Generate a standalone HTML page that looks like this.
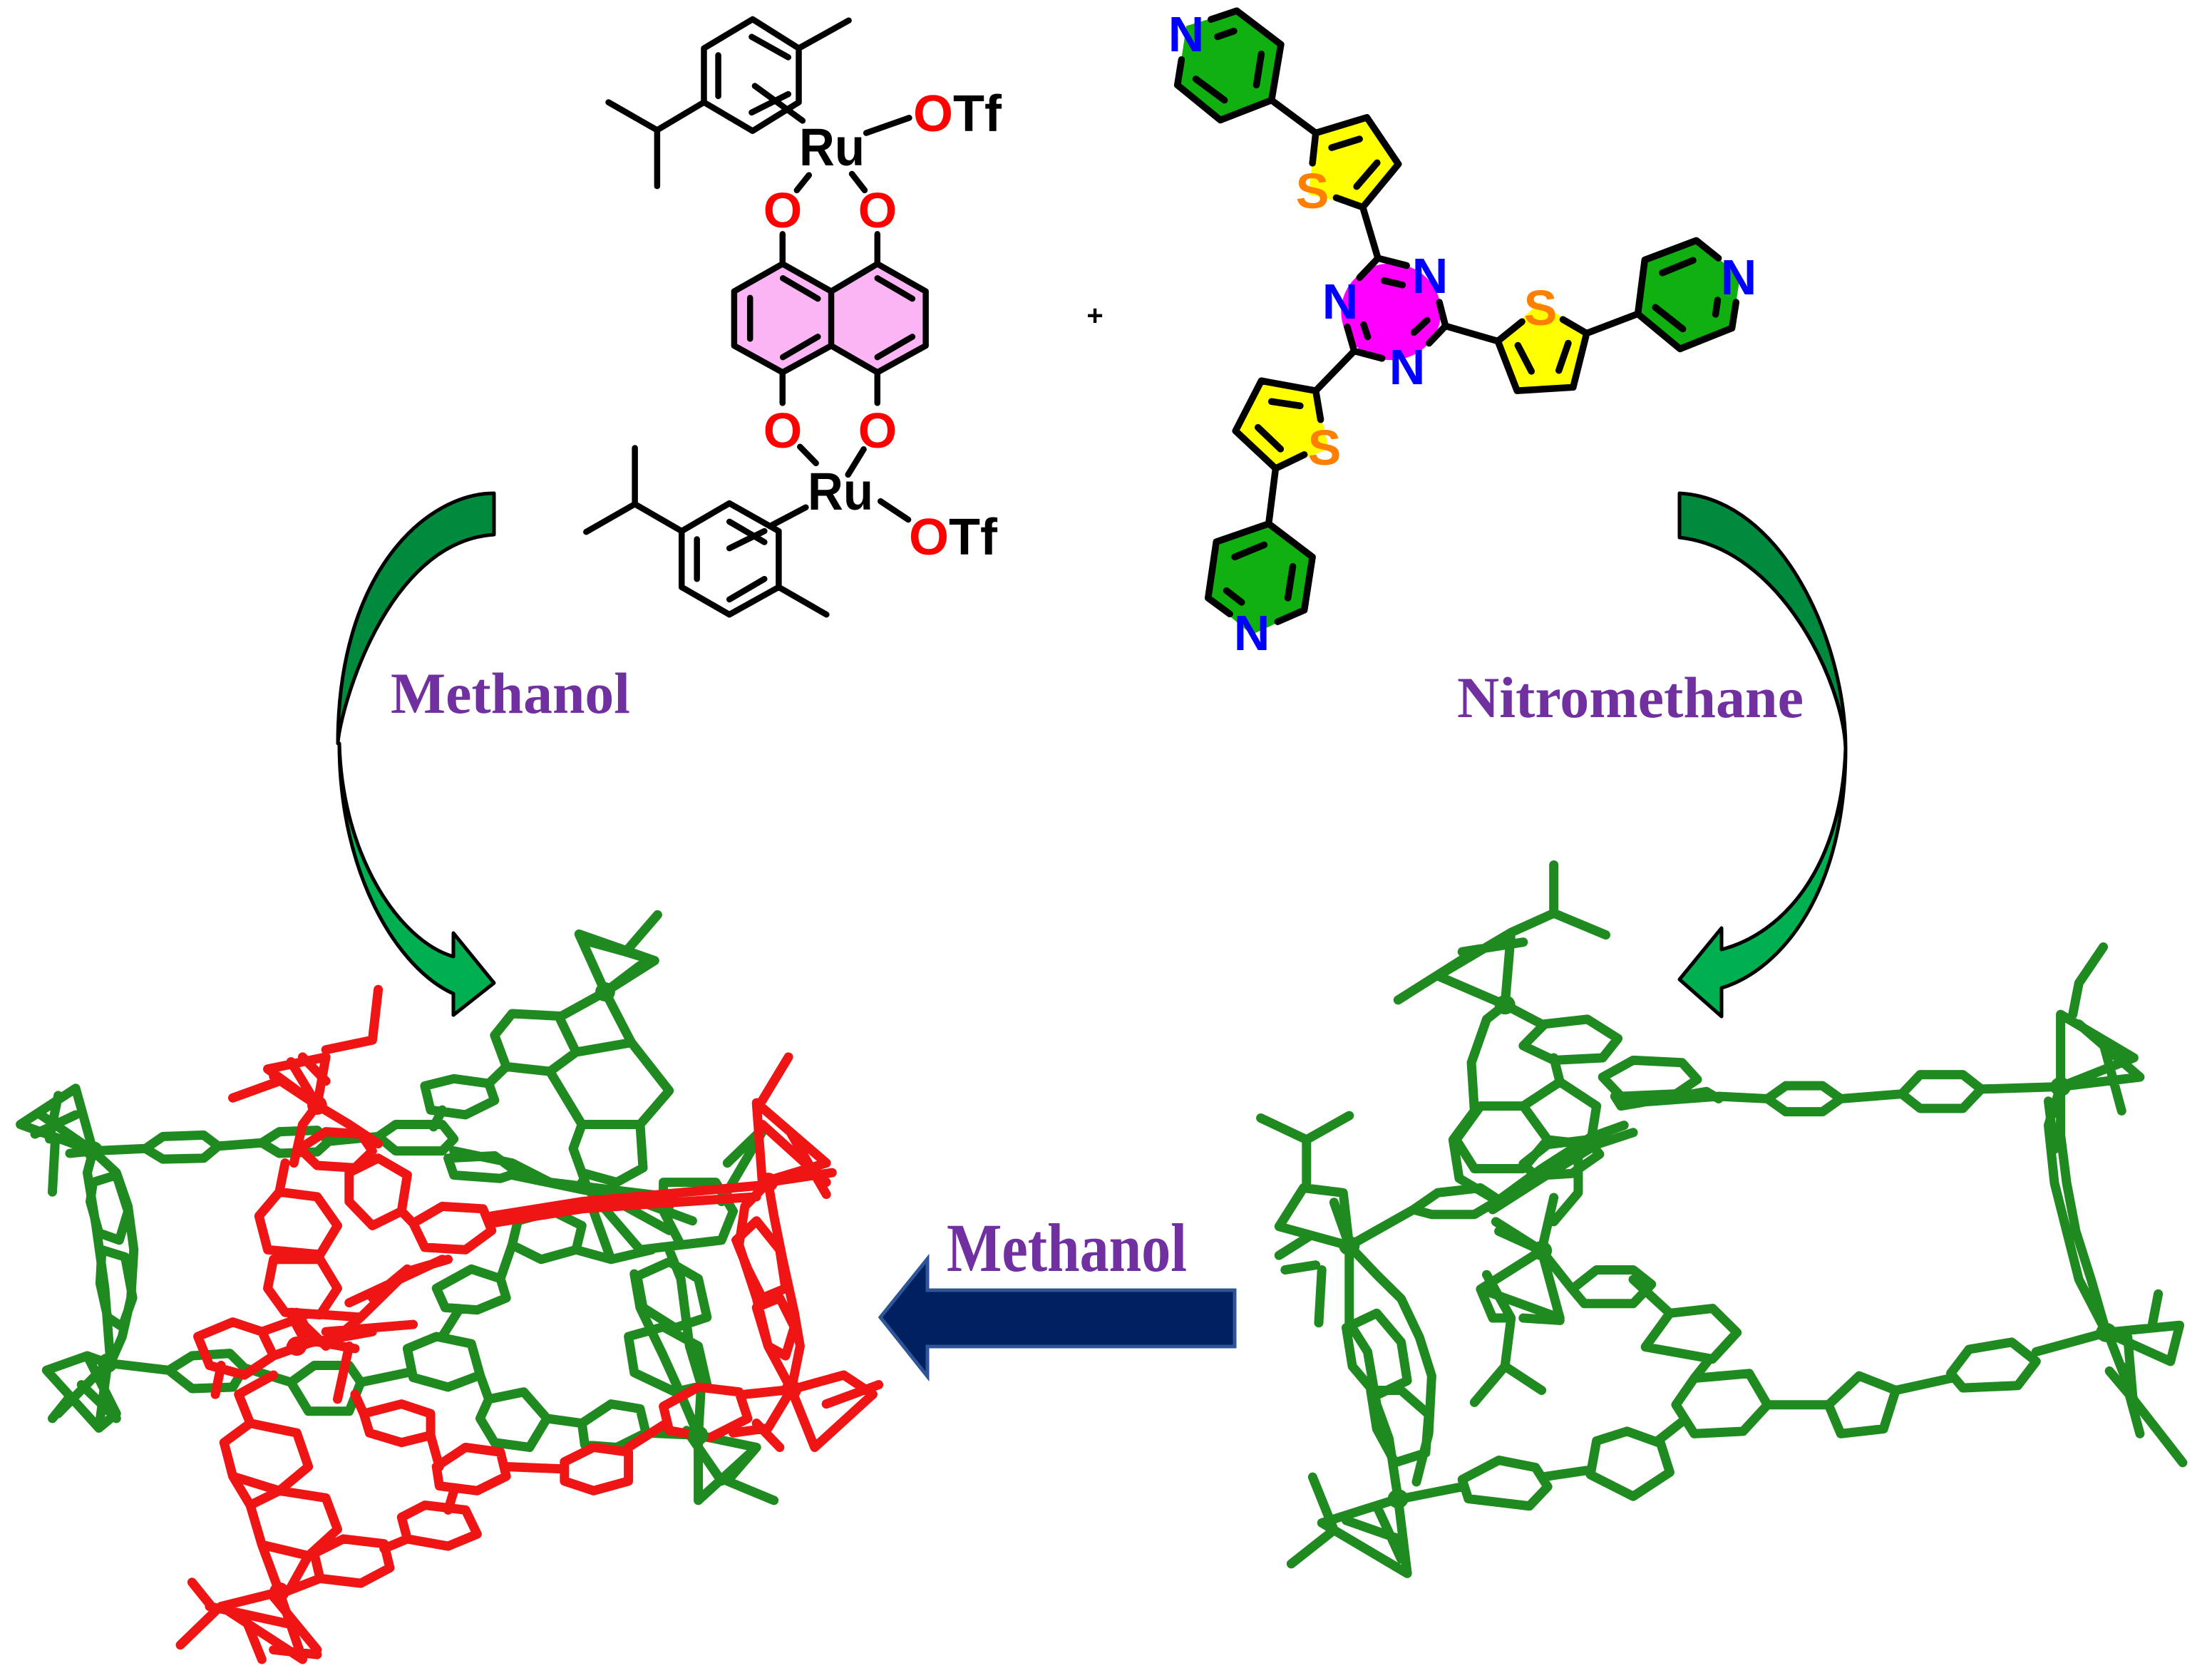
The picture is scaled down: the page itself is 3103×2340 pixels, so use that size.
<!DOCTYPE html>
<html><head><meta charset="utf-8">
<style>
html,body{margin:0;padding:0;background:#fff}
svg{display:block}
.b{fill:none;stroke:#000;stroke-width:8.5;stroke-linecap:round;stroke-linejoin:round}
.b2{fill:none;stroke:#000;stroke-width:9.5;stroke-linecap:round;stroke-linejoin:round}
.g{fill:none;stroke:#1f8a1f;stroke-width:13;stroke-linecap:round;stroke-linejoin:round}
.r{fill:none;stroke:#f01515;stroke-width:13;stroke-linecap:round;stroke-linejoin:round}
.lbl{font-family:"Liberation Sans",Arial,sans-serif}
.sol{font-family:"Liberation Serif","Times New Roman",serif;font-weight:bold;fill:#7030a0}
</style></head><body>
<svg width="3103" height="2340" viewBox="0 0 3103 2340" xmlns="http://www.w3.org/2000/svg">
<rect width="3103" height="2340" fill="#fff"/>

<!-- ===== Ru dimer molecule ===== -->
<g transform="translate(800,0) scale(0.4464,0.574)">
<polygon points="667,645 820,712 965,645 1117,712 1117,845 965,910 820,845 667,910 515,845 515,712" fill="#fbb5f5"/>
<path class="b" vector-effect="non-scaling-stroke" d="
M573,47 L718,118 L718,250 L573,320 L420,250 L420,118 Z
M718,118 L875,50
M420,250 L273,318 L120,250 M273,318 L273,455
M465,135 L465,235 M570,90 L685,140 M570,275 L685,230
M580,210 L730,295
M930,325 L1065,288
M712,465 L750,428 M885,425 L925,465
M667,572 L667,645 M965,572 L965,645
M667,645 L820,712 L965,645 L1117,712 L1117,845 L965,910 L820,845 L667,910 L515,845 L515,712 Z
M820,712 L820,845
M668,680 L778,730 M565,728 L565,828 M668,873 L778,823 M965,680 L1075,730 M965,873 L1075,823
M667,910 L667,985 M965,910 L965,985
M722,1092 L772,1132 M922,1098 L873,1160
M975,1225 L1062,1270
M500,1230 L655,1298 L655,1435 L500,1502 L350,1435 L350,1298 Z
M350,1298 L203,1232 L50,1300 M203,1232 L203,1095
M655,1435 L805,1502
M500,1340 L610,1298 M635,1283 L740,1240
M398,1318 L398,1415 M500,1275 L610,1325 M500,1465 L610,1415"/>
</g>
<g class="lbl" font-weight="bold">
<text x="1121" y="232" font-size="74" textLength="92" lengthAdjust="spacingAndGlyphs">Ru</text>
<text x="1133" y="715" font-size="74" textLength="92" lengthAdjust="spacingAndGlyphs">Ru</text>
<text x="1281" y="184" font-size="72"><tspan fill="#ff0000">O</tspan>Tf</text>
<text x="1275" y="778" font-size="72"><tspan fill="#ff0000">O</tspan>Tf</text>
<g fill="#ff0000" font-size="70" text-anchor="middle">
<text x="1098" y="319">O</text><text x="1231" y="319">O</text>
<text x="1098" y="628">O</text><text x="1231" y="628">O</text>
</g>
<text x="1536" y="456" font-size="40" text-anchor="middle">+</text>
</g>

<!-- ===== Tripyridyl ligand ===== -->
<g transform="translate(1600,0) scale(0.5741,0.6057)">
<polygon points="112,60 235,25 343,103 320,232 195,278 90,197" fill="#10b010"/>
<polygon points="428,308 553,272 630,380 543,480 410,450" fill="#ffff00"/>
<ellipse cx="612" cy="722" rx="122" ry="112" fill="#ff00ff"/>
<polygon points="873,790 975,700 1090,772 1057,897 920,905" fill="#ffff00"/>
<polygon points="1215,727 1232,602 1358,557 1465,640 1445,760 1318,808" fill="#10b010"/>
<polygon points="428,905 295,882 232,998 330,1085 460,1040" fill="#ffff00"/>
<polygon points="313,1213 420,1290 400,1413 272,1470 165,1385 185,1255" fill="#10b010"/>
<path class="b2" vector-effect="non-scaling-stroke" d="
M172,45 L235,25 L343,103 L320,232 L195,278 L90,197 L100,138
M188,85 L228,72 M295,125 L283,197 M135,183 L205,232
M320,232 L428,308
M420,378 L428,308 L553,272 L630,380 L543,480 L478,458
M467,342 L535,322 M528,432 L578,377
M543,480 L580,598
M535,643 L580,598 L650,615 M730,700 L745,755 L705,795 M590,830 L522,813 L505,757
M595,650 L640,660 M545,752 L555,780 M668,770 L700,742
M745,755 L873,790
M932,745 L873,790 L920,905 L1057,897 L1090,772 L1032,740
M922,800 L955,860 M1045,795 L1022,858
M1090,772 L1215,727
M1412,598 L1358,557 L1232,602 L1215,727 L1318,808 L1445,760 L1455,700
M1275,632 L1350,603 M1258,712 L1325,762 M1410,695 L1405,728
M522,813 L428,905
M440,972 L428,905 L295,882 L232,998 L330,1085 L400,1053
M320,930 L390,940 M287,990 L342,1040
M330,1085 L313,1213
M335,1440 L400,1413 L420,1290 L313,1213 L185,1255 L165,1385 L218,1422
M230,1290 L302,1262 M372,1312 L360,1385 M210,1368 L247,1395"/>
</g>
<g class="lbl" font-size="70" font-weight="bold" text-anchor="middle">
<text x="1664" y="72" fill="#0000ff">N</text>
<text x="1841" y="292" fill="#ff8000">S</text>
<text x="2006" y="411" fill="#0000ff">N</text>
<text x="1974" y="539" fill="#0000ff">N</text>
<text x="1880" y="447" fill="#0000ff">N</text>
<text x="2161" y="456" fill="#ff8000">S</text>
<text x="2439" y="413" fill="#0000ff">N</text>
<text x="1858" y="652" fill="#ff8000">S</text>
<text x="1756" y="912" fill="#0000ff">N</text>
</g>

<!-- ===== Curved arrows ===== -->
<g stroke="#000" stroke-width="5" stroke-linejoin="round">
<path fill="#008a3e" d="M693,692 C600,692 474,800 474,1043 C476,1000 540,760 693,750 Z"/>
<path fill="#00b050" d="M476,1043 C476,1230 560,1360 636,1394 L636,1424 L693,1379 L636,1309 L636,1342 C560,1320 480,1200 476,1043 Z"/>
<path fill="#008a3e" d="M2356,692 C2500,700 2589,900 2589,1050 C2586,960 2500,770 2356,754 Z"/>
<path fill="#00b050" d="M2589,1050 C2589,1250 2500,1360 2415,1386 L2415,1426 L2356,1374 L2415,1302 L2415,1332 C2500,1310 2583,1220 2589,1050 Z"/>
</g>
<text class="sol" x="548" y="1000" font-size="82" textLength="336" lengthAdjust="spacingAndGlyphs">Methanol</text>
<text class="sol" x="2044" y="1006" font-size="82" textLength="486" lengthAdjust="spacingAndGlyphs">Nitromethane</text>

<!-- ===== Straight arrow ===== -->
<polygon points="1235,1848 1301,1766 1301,1810 1732,1810 1732,1889 1301,1889 1301,1931" fill="#002060" stroke="#2e5597" stroke-width="5" stroke-linejoin="miter"/>
<text class="sol" x="1328" y="1783" font-size="96" textLength="337" lengthAdjust="spacingAndGlyphs">Methanol</text>

<!-- ===== Left crystal structure ===== -->
<g transform="translate(0,1280) scale(0.8163,0.6761)">
<path class="g" vector-effect="non-scaling-stroke" d="
M995,45 L1125,100 L1040,165 Z M995,45 L1040,165 M1010,60 L1070,80 L1125,100 M1080,75 L1130,5 M1040,165 L1100,110
M1040,165 L965,215
M880,210 L960,215 L990,290 L945,330 L870,320 L850,255 Z
M990,290 L1085,270 L1150,370 L1100,440 L1000,440 L945,330
M1040,165 L1085,270
M1000,440 L985,490 L1000,540 L1060,560 L1105,530 L1100,440
M1000,540 L1010,575
M730,360 L780,345 L840,355 L850,390 L800,420 L740,410 Z M870,320 L840,355 M760,410 L745,445
M160,495 L250,490
M250,490 L280,465 L350,462 L375,485 L350,510 L280,512 Z M375,485 L450,478
M450,478 L480,455 L545,452 L565,475 L545,497 L480,500 Z M565,475 L650,465
M650,465 L680,440 L760,440 L780,470 L760,495 L680,495 Z
M780,495 L880,520 L945,560 L1150,590
M770,510 L850,505 L890,540 L860,552 L780,545 Z
M880,545 L1000,575 L1150,610
M160,495 L150,540 L165,650 L180,780 L190,935
M160,495 L200,540 L220,610 L230,700 L225,800 L210,880 L190,935
M160,560 L200,545 L220,620 L205,680 L170,665 L155,600 Z
M175,700 L215,715 L228,800 L210,860 L185,840 L172,770 Z
M35,440 L130,365 L160,495 Z M70,420 L160,495 M95,470 L90,580 M60,460 L130,420 M100,380 L85,470 M120,500 L160,495
M80,950 L150,920 L185,935 L170,1070 Z M100,1040 L185,935 M140,980 L200,1050 M120,1005 L90,1050 M150,920 L200,1040 L170,1070
M185,935 L290,950
M290,950 L330,920 L395,915 L420,945 L400,985 L330,988 Z
M500,975 L540,940 L600,940 L620,975 L600,1035 L530,1035 Z M420,945 L500,975
M620,975 L700,955
M700,905 L750,880 L810,895 L825,960 L770,985 L710,965 Z
M750,780 L810,740 L860,760 L870,800 L820,825 L765,820 Z M760,880 L790,822
M880,690 L890,640 L950,620 L1000,650 L990,700 L930,720 Z M860,760 L880,690
M840,1010 L900,995 L940,1050 L910,1110 L850,1100 L825,1050 Z M825,960 L840,1010
M940,1050 L1000,1060
M1000,1060 L1050,1020 L1100,1030 L1110,1080 L1060,1110 L1005,1105 Z M1110,1080 L1200,1085
M1200,1085 L1300,1110 L1200,1220 Z M1180,1075 L1240,1180 M1300,1110 L1250,1180 L1330,1220
M1200,1085 L1205,980 L1185,900 L1170,760 L1150,700
M1200,1085 L1170,1000 L1140,920 L1100,820 L1090,750
M1095,755 L1150,725 L1200,760 L1215,840 L1160,862 L1105,820 Z
M1080,880 L1140,860 L1200,900 L1215,980 L1160,995 L1090,955 Z
M1140,560 L1230,560 L1260,620 L1240,680 L1170,690 L1140,620 Z
M1240,600 L1310,455 M1250,520 L1310,450
M1000,560 L1100,700 L1170,690 M1020,620 L1050,720 L1120,700 M1060,600 L1150,660 M1100,600 L1190,640 M990,700 L1050,720"/>
<path class="r" vector-effect="non-scaling-stroke" d="
M650,160 L640,265 L560,285
M460,325 L560,300 L545,400 Z M470,340 L545,400 M400,385 L480,350 M520,300 L560,350 M500,310 L545,400
M545,400 L520,440 L505,520 M545,400 L600,440 L650,480
M515,490 L560,455 L620,460 L640,495 L610,530 L545,525 Z
M445,630 L480,580 L545,590 L580,650 L550,710 L460,700 Z M490,520 L480,580
M470,720 L550,720 L580,780 L550,835 L490,830 L460,780 Z M500,835 L520,880
M600,540 L650,510 L700,545 L690,620 L640,650 L600,600 Z
M710,645 L760,610 L830,615 L845,660 L800,700 L730,695 Z M690,620 L710,645
M845,630 L1000,600 L1320,565 M845,645 L1000,615 L1300,590
M1355,300 L1310,390
M1300,395 L1420,520 L1310,560 Z M1310,440 L1420,560 M1360,460 L1420,585 M1320,560 L1430,540
M1320,560 L1280,610 L1270,690 L1300,800 L1320,900 L1360,990
M1320,560 L1330,630 L1345,720 L1365,830 L1375,900 L1360,990
M1265,680 L1300,640 L1340,700 L1350,780 L1310,800 L1285,740 Z
M1300,820 L1340,800 L1365,860 L1350,920 L1320,900 Z
M1360,990 L1450,960 L1500,1000 L1400,1110 Z M1420,1020 L1510,980 M1300,1060 L1340,1110 M1360,990 L1320,1070 L1260,1080
M1360,990 L1280,1000
M1140,1025 L1200,985 L1270,995 L1285,1050 L1220,1090 L1150,1075 Z M1145,1060 L1080,1110
M970,1140 L1020,1110 L1080,1120 L1080,1180 L1020,1200 L970,1180 Z M970,1155 L870,1150
M750,1150 L800,1110 L860,1120 L870,1170 L820,1200 L755,1190 Z M780,1200 L770,1240
M690,1255 L730,1230 L800,1240 L820,1290 L770,1315 L700,1300 Z M700,1300 L660,1320
M540,1330 L590,1300 L660,1310 L670,1360 L620,1392 L550,1382 Z M550,1382 L490,1410
M380,1440 L480,1410 L520,1550 Z M330,1390 L370,1450 L310,1520 M470,1420 L545,1530 M360,1440 L510,1480 M420,1460 L450,1550 M470,1530 L545,1540
M385,1100 L430,1060 L510,1080 L530,1150 L480,1200 L400,1170 Z
M430,1230 L480,1200 L560,1215 L580,1280 L530,1335 L450,1312 Z
M450,1312 L480,1410 M530,1335 L500,1400 M400,1170 L430,1230
M430,1060 L410,1000 L470,960
M340,880 L400,850 L450,870 L470,920 L420,960 L360,940 Z
M500,830 L620,840 L560,900 Z M560,870 L710,855 M380,940 L370,1000 M600,900 L580,1010 M500,900 L640,870 M470,920 L540,890 L610,905 M450,870 L520,840
M620,840 L700,745 L770,720 M600,810 L760,720 M640,800 L700,740
M625,1040 L690,1020 L740,1040 L740,1085 L690,1100 L635,1080 Z M610,1000 L625,1040 M740,1085 L755,1150
M540,890 L510,830"/>
<g fill="#1f8a1f"><ellipse cx="1040" cy="165" rx="17" ry="20"/><ellipse cx="160" cy="495" rx="17" ry="20"/><ellipse cx="185" cy="935" rx="17" ry="20"/><ellipse cx="1200" cy="1085" rx="17" ry="20"/></g>
<g fill="#f01515"><ellipse cx="545" cy="400" rx="17" ry="20"/><ellipse cx="1320" cy="560" rx="17" ry="20"/><ellipse cx="1360" cy="990" rx="17" ry="20"/><ellipse cx="480" cy="1410" rx="17" ry="20"/><ellipse cx="510" cy="900" rx="17" ry="20"/></g>
</g>

<!-- ===== Right crystal structure ===== -->
<g transform="translate(1760,1200) scale(0.8565,0.6761)">
<path class="g" vector-effect="non-scaling-stroke" d="
M490,20 L490,120 L575,165 M490,120 L420,160
M300,250 L420,160 L410,310 Z M235,300 L360,200 M340,200 L440,180
M410,310 L470,350 M410,310 L380,340 L355,430
M440,395 L475,350 L545,340 L595,380 L570,420 L490,425 Z
M570,460 L620,425 L700,430 L725,465 L690,495 L600,500 Z
M600,520 L740,490 L760,505 M590,500 L600,520
M600,515 L760,500 L840,505
M840,505 L870,478 L930,478 L960,505 L930,532 L870,532 Z M960,505 L1060,495
M1060,495 L1090,455 L1160,455 L1190,485 L1160,525 L1090,525 Z M1190,485 L1320,480
M1390,190 L1350,265 L1340,330
M1320,330 L1440,420 L1320,480 Z M1350,350 L1450,460 L1320,480 M1390,390 L1420,530 M1300,510 L1310,610
M1320,480 L1300,560 L1310,680 L1330,780 L1350,880 L1395,990
M1320,480 L1320,580 L1330,680 L1345,780 L1370,880 L1395,990
M1395,990 L1515,975 L1500,1050 Z M1480,910 L1470,975 M1400,1000 L1440,1130 L1520,1260 M1420,1060 L1450,1200 M1440,1130 L1400,1070 M1430,1000 L1440,1150
M1395,990 L1280,1030
M1140,1075 L1170,1025 L1240,1010 L1280,1050 L1250,1100 L1160,1105 Z M1140,1085 L1050,1110
M940,1140 L990,1080 L1050,1110 L1030,1190 L960,1200 Z M940,1140 L840,1140
M720,1085 L810,1075 L840,1140 L800,1195 L720,1200 L690,1140 Z
M720,1085 L745,1045
M640,1020 L680,950 L750,940 L790,990 L750,1045 Z
M680,950 L620,880
M520,900 L560,860 L620,860 L650,890 L620,930 L540,930 Z M520,900 L470,820
M700,1175 L660,1215
M560,1215 L610,1195 L665,1220 L680,1280 L620,1330 L550,1285 Z M550,1275 L470,1290
M340,1295 L400,1255 L460,1270 L480,1310 L450,1350 L350,1335 Z M340,1310 L240,1335
M110,1385 L235,1335 L250,1490 Z M95,1290 L130,1400 M60,1470 L130,1400 M150,1380 L240,1420 M200,1350 L240,1460
M235,1335 L220,1210 L200,1140 L185,1030 L155,970 L155,810
M265,1300 L285,1200 L290,1080 L270,1000 L240,920 L200,870 L155,810
M150,980 L200,950 L240,1010 L250,1090 L200,1120 L160,1060 Z
M190,1110 L240,1110 L285,1160 L280,1240 L230,1260 L200,1190 Z
M10,545 L85,590 L155,540 M85,590 L85,680
M40,770 L80,690 L145,700 L155,810 Z M40,830 L90,790 M50,860 L100,850 M110,860 L105,970 M130,720 L155,810 M40,770 L155,810
M155,810 L260,735
M260,735 L300,700 L370,690 L400,715 L360,745 L290,745 Z
M400,715 L470,650 L550,585 L605,560 M390,735 L470,670 L560,600 L620,575
M440,640 L480,600 L545,590 L565,620 L520,660 L460,665 Z
M355,430 L360,530 L325,590 L335,670 L395,715
M370,520 L440,520 L480,590 L440,650 L360,650 L330,590 Z
M440,520 L500,470 L560,520 L550,600 L480,590
M530,610 L530,700 L490,760 M395,760 L470,820 M490,420 L500,470
M370,900 L470,820 L500,960 Z M400,780 L470,820 M490,710 L470,820 M380,870 L420,960
M420,960 L410,1060 L360,1135 M410,1060 L470,1110 M440,960 L500,965 M370,900 L390,960 L420,960
M470,820 L520,900"/>
<g fill="#1f8a1f"><ellipse cx="410" cy="310" rx="17" ry="20"/><ellipse cx="1320" cy="480" rx="17" ry="20"/><ellipse cx="1395" cy="990" rx="17" ry="20"/><ellipse cx="235" cy="1335" rx="17" ry="20"/><ellipse cx="155" cy="810" rx="17" ry="20"/><ellipse cx="470" cy="820" rx="17" ry="20"/></g>
</g>
</svg>
</body></html>
